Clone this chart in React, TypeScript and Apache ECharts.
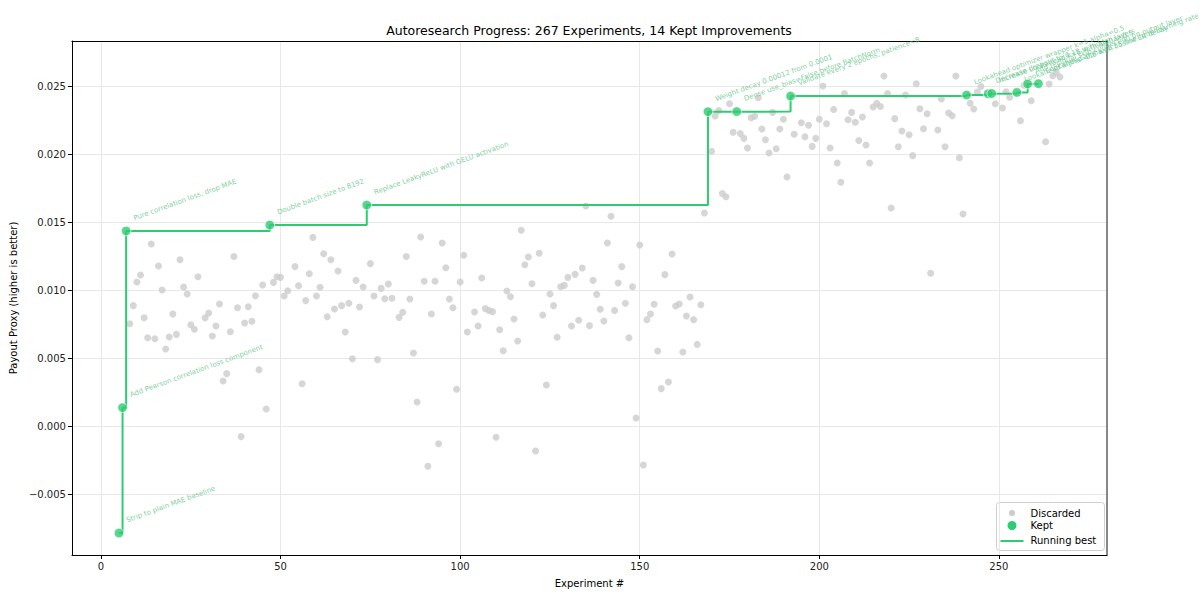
import React, { useEffect, useRef } from 'react';
import * as echarts from 'echarts';

const TITLE = 'Autoresearch Progress: 267 Experiments, 14 Kept Improvements';
const X_NAME = 'Experiment #';
const Y_NAME = 'Payout Proxy (higher is better)';
const xTicks = [0, 50, 100, 150, 200, 250];
const yTicks = [-0.005, 0, 0.005, 0.01, 0.015, 0.02, 0.025];

const discardedExp = [
  8, 9, 10, 11, 12, 13, 14, 15, 16, 17, 18, 19, 20, 21, 22, 23, 24, 25, 26, 27, 29, 30, 31, 32, 33, 34, 35, 36, 37, 38, 39, 40,
  41, 42, 43, 44, 45, 46, 48, 49, 50, 51, 52, 54, 55, 56, 57, 58, 59, 60, 61, 62, 63, 64, 65, 66, 67, 68, 69, 70, 71, 72, 73,
  75, 76, 77, 78, 79, 80, 81, 83, 84, 85, 86, 87, 88, 89, 90, 91, 92, 93, 94, 95, 96, 97, 98, 99, 100, 101, 102, 104, 105, 106,
  107, 108, 109, 110, 111, 112, 113, 114, 115, 116, 117, 118, 119, 120, 121, 122, 123, 124, 125, 126, 127, 128, 129, 130, 131,
  132, 133, 134, 135, 136, 137, 138, 139, 140, 141, 142, 143, 144, 145, 146, 147, 148, 149, 150, 151, 152, 153, 154, 155, 156,
  157, 158, 159, 160, 161, 162, 163, 164, 165, 166, 167, 168, 170, 171, 172, 173, 174, 175, 176, 178, 179, 180, 181, 182, 183,
  184, 185, 186, 187, 188, 189, 190, 191, 193, 195, 196, 197, 198, 199, 200, 201, 202, 203, 204, 205, 206, 207, 208, 209, 210,
  211, 212, 213, 214, 215, 216, 217, 218, 219, 220, 221, 222, 223, 224, 225, 226, 227, 228, 229, 230, 231, 233, 234, 235, 236,
  237, 238, 239, 240, 242, 243, 244, 245, 249, 251, 252, 253, 256, 257, 259, 263, 264, 265, 266, 267,
];
const discardedScore = [
  0.00752, 0.00885, 0.01059, 0.0111, 0.00796, 0.00649, 0.01338, 0.00642, 0.01176, 0.01, 0.00566, 0.00654, 0.00824, 0.00674,
  0.01223, 0.01022, 0.00971, 0.00745, 0.00711, 0.01098, 0.00796, 0.00831, 0.00662, 0.00735, 0.00897, 0.00331, 0.00385, 0.00693,
  0.01247, 0.0087, -0.00078, 0.00757, 0.00877, 0.0077, 0.00958, 0.00414, 0.01037, 0.00125, 0.01056, 0.01098, 0.01093, 0.00956,
  0.00995, 0.01172, 0.01032, 0.00311, 0.00922, 0.0112, 0.01387, 0.00956, 0.0102, 0.01267, 0.00804, 0.01223, 0.0086, 0.0114,
  0.00885, 0.00691, 0.00902, 0.00495, 0.01071, 0.00875, 0.01022, 0.01194, 0.00956, 0.00488, 0.01012, 0.00936, 0.01044, 0.00939,
  0.00799, 0.00836, 0.01247, 0.00934, 0.00537, 0.00176, 0.0139, 0.01064, -0.00296, 0.00824, 0.01064, -0.0013, 0.01346, 0.01164,
  0.00934, 0.0087, 0.0027, 0.01059, 0.01255, 0.00691, 0.00838, 0.00735, 0.01088, 0.00863, 0.0085, 0.00841, -0.00083, 0.00708,
  0.00554, 0.00993, 0.00951, 0.00787, 0.00625, 0.01439, 0.01186, 0.01243, 0.01046, -0.00184, 0.0127, 0.00816, 0.00301, 0.00971,
  0.00885, 0.00652, 0.01024, 0.01034, 0.01093, 0.00735, 0.01115, 0.00777, 0.01162, 0.01618, 0.00738, 0.01071, 0.00968, 0.00858,
  0.00772, 0.01346, 0.01542, 0.0085, 0.01051, 0.01172, 0.00902, 0.00649, 0.01024, 0.00059, 0.01331, -0.00287, 0.00782, 0.00824,
  0.00895, 0.00551, 0.00275, 0.01113, 0.00324, 0.01265, 0.00882, 0.00897, 0.00544, 0.00809, 0.00949, 0.00782, 0.006, 0.00892,
  0.01566, 0.0202, 0.02279, 0.02319, 0.0171, 0.01686, 0.0237, 0.0216, 0.0215, 0.02115, 0.02044, 0.02267, 0.02277, 0.02414,
  0.02184, 0.02105, 0.02007, 0.02306, 0.02039, 0.02184, 0.02255, 0.01831, 0.02145, 0.0223, 0.02127, 0.02211, 0.02056, 0.02115,
  0.02255, 0.025, 0.02223, 0.02044, 0.02328, 0.01934, 0.01792, 0.02444, 0.02252, 0.02306, 0.02233, 0.021, 0.02272, 0.02066,
  0.01934, 0.02346, 0.02373, 0.0235, 0.02574, 0.02444, 0.01603, 0.0226, 0.02054, 0.02169, 0.02434, 0.02142, 0.01988, 0.02517,
  0.02333, 0.02186, 0.02296, 0.01123, 0.02176, 0.02404, 0.02054, 0.02301, 0.02282, 0.02574, 0.01973, 0.01559, 0.02373, 0.02331,
  0.02456, 0.02497, 0.0237, 0.02338, 0.02458, 0.02417, 0.02245, 0.02505, 0.02392, 0.0209, 0.02515, 0.02576, 0.02598, 0.02566,
];

const keptExp = [5, 6, 7, 47, 74, 169, 177, 192, 241, 247, 248, 255, 258, 261];
const keptScore = [
  -0.00787, 0.00135, 0.01434, 0.01478, 0.01625, 0.02311, 0.02312, 0.02426, 0.02434, 0.02443, 0.02445, 0.02453, 0.02515, 0.02517,
];
const keptLabels = [
  'Strip to plain MAE baseline',
  'Add Pearson correlation loss component',
  'Pure correlation loss, drop MAE',
  'Double batch size to 8192',
  'Replace LeakyReLU with GELU activation',
  'Weight decay 0.00012 from 0.0001',
  'Dense use_bias=False before BatchNorm',
  'Validate every 2 epochs, patience=8',
  'Lookahead optimizer wrapper k=5 alpha=0.5',
  'Decrease dropout to 0.15 in hidden layers',
  'Increase Lookahead k=6 with alpha=0.5',
  'Lookahead alpha=0.6 with cosine LR decay',
  'Add residual skip connection on output layer',
  'Lookahead alpha=0.55 fine-tune learning rate',
];

const FONT = 'DejaVu Sans';
const GREEN = '#2ecc71';
const GREY = '#cccccc';
const LABEL_GREEN = '#5abf85';

const fmtY = (v: number) => {
  const s = Math.abs(v).toFixed(3);
  return v < -1e-9 ? '\u2212' + s : s;
};

export default function App() {
  const ref = useRef<HTMLDivElement>(null);
  useEffect(() => {
    const chart = echarts.init(ref.current!, null, { renderer: 'svg' });
    const xMin = -8.1;
    const xMax = 280.1;
    const yMin = -0.009485;
    const yMax = 0.02831;
    const option: any = {
      animation: false,
      backgroundColor: '#ffffff',
      textStyle: { fontFamily: FONT },
      title: {
        text: TITLE,
        left: 589,
        top: 24,
        padding: 0,
        textAlign: 'center',
        textStyle: { fontFamily: FONT, fontSize: 12.5, fontWeight: 'normal', color: '#000' },
      },
      grid: { left: 71, right: 93, top: 41, bottom: 45, containLabel: false },
      xAxis: [
        {
          type: 'value',
          min: xMin,
          max: xMax,
          name: X_NAME,
          nameLocation: 'middle',
          nameGap: 23,
          nameTextStyle: { fontFamily: FONT, fontSize: 10, color: '#000' },
          axisLine: { show: true, onZero: false, lineStyle: { color: '#000', width: 1 } },
          axisTick: { show: true, customValues: xTicks, length: 4, lineStyle: { color: '#000', width: 1 } },
          axisLabel: { customValues: xTicks, fontFamily: FONT, fontSize: 10, color: '#222', margin: 6 },
          splitLine: { show: true, lineStyle: { color: '#e8e8e8', width: 1 } },
        },
        {
          type: 'value',
          position: 'top',
          min: xMin,
          max: xMax,
          axisLine: { show: true, onZero: false, lineStyle: { color: '#000', width: 1 } },
          axisTick: { show: false },
          axisLabel: { show: false },
          splitLine: { show: false },
        },
      ],
      yAxis: [
        {
          type: 'value',
          min: yMin,
          max: yMax,
          name: Y_NAME,
          nameLocation: 'middle',
          nameGap: 48,
          nameRotate: 90,
          nameTextStyle: { fontFamily: FONT, fontSize: 10, color: '#000' },
          axisLine: { show: true, onZero: false, lineStyle: { color: '#000', width: 1 } },
          axisTick: { show: true, customValues: yTicks, length: 4, lineStyle: { color: '#000', width: 1 } },
          axisLabel: { customValues: yTicks, fontFamily: FONT, fontSize: 10, color: '#222', margin: 6, formatter: fmtY },
          splitLine: { show: true, lineStyle: { color: '#e8e8e8', width: 1 } },
        },
        {
          type: 'value',
          position: 'right',
          min: yMin,
          max: yMax,
          axisLine: { show: true, onZero: false, lineStyle: { color: '#888', width: 2 } },
          axisTick: { show: false },
          axisLabel: { show: false },
          splitLine: { show: false },
        },
      ],
      series: [
        {
          name: 'Discarded',
          type: 'scatter',
          xAxisIndex: 0,
          yAxisIndex: 0,
          symbolSize: 7,
          itemStyle: { color: GREY },
          z: 1,
          data: discardedExp.map((x, i) => [x, discardedScore[i]]),
        },
        {
          name: 'Running best',
          type: 'line',
          xAxisIndex: 0,
          yAxisIndex: 0,
          step: 'end',
          showSymbol: false,
          symbol: 'none',
          lineStyle: { color: GREEN, width: 2 },
          z: 2,
          data: keptExp.map((x, i) => [x, keptScore[i]]),
        },
        {
          name: 'Kept',
          type: 'scatter',
          xAxisIndex: 0,
          yAxisIndex: 0,
          symbolSize: 9.5,
          itemStyle: { color: GREEN, borderColor: '#ffffff', borderWidth: 0.8 },
          z: 3,
          label: {
            show: true,
            formatter: (p: any) => keptLabels[p.dataIndex],
            position: [14, -4],
            rotate: 20,
            align: 'left',
            verticalAlign: 'bottom',
            fontFamily: FONT,
            fontSize: 7,
            color: LABEL_GREEN,
          },
          labelLayout: { hideOverlap: false },
          data: keptExp.map((x, i) => [x, keptScore[i]]),
        },
      ],
      graphic: [
        {
          type: 'group',
          left: 996,
          top: 502,
          children: [
            {
              type: 'rect',
              shape: { x: 0, y: 0, width: 108, height: 48, r: 3 },
              style: { fill: 'rgba(255,255,255,0.85)', stroke: '#cfcfcf', lineWidth: 1 },
            },
            { type: 'circle', shape: { cx: 15.5, cy: 10.5, r: 3.2 }, style: { fill: GREY } },
            {
              type: 'text',
              x: 34,
              y: 10.5,
              style: { text: 'Discarded', fontFamily: FONT, fontSize: 10, fill: '#000', verticalAlign: 'middle' },
            },
            { type: 'circle', shape: { cx: 15.5, cy: 23, r: 4.5 }, style: { fill: GREEN } },
            {
              type: 'text',
              x: 34,
              y: 23,
              style: { text: 'Kept', fontFamily: FONT, fontSize: 10, fill: '#000', verticalAlign: 'middle' },
            },
            { type: 'line', shape: { x1: 4, y1: 38.5, x2: 27, y2: 38.5 }, style: { stroke: GREEN, lineWidth: 2 } },
            {
              type: 'text',
              x: 34,
              y: 38,
              style: { text: 'Running best', fontFamily: FONT, fontSize: 10, fill: '#000', verticalAlign: 'middle' },
            },
          ],
        },
      ],
    };
    chart.setOption(option);
    return () => chart.dispose();
  }, []);
  return (
    <div
      ref={ref}
      style={{ position: 'fixed', left: 0, top: 0, width: 1200, height: 600, background: '#fff' }}
    />
  );
}
